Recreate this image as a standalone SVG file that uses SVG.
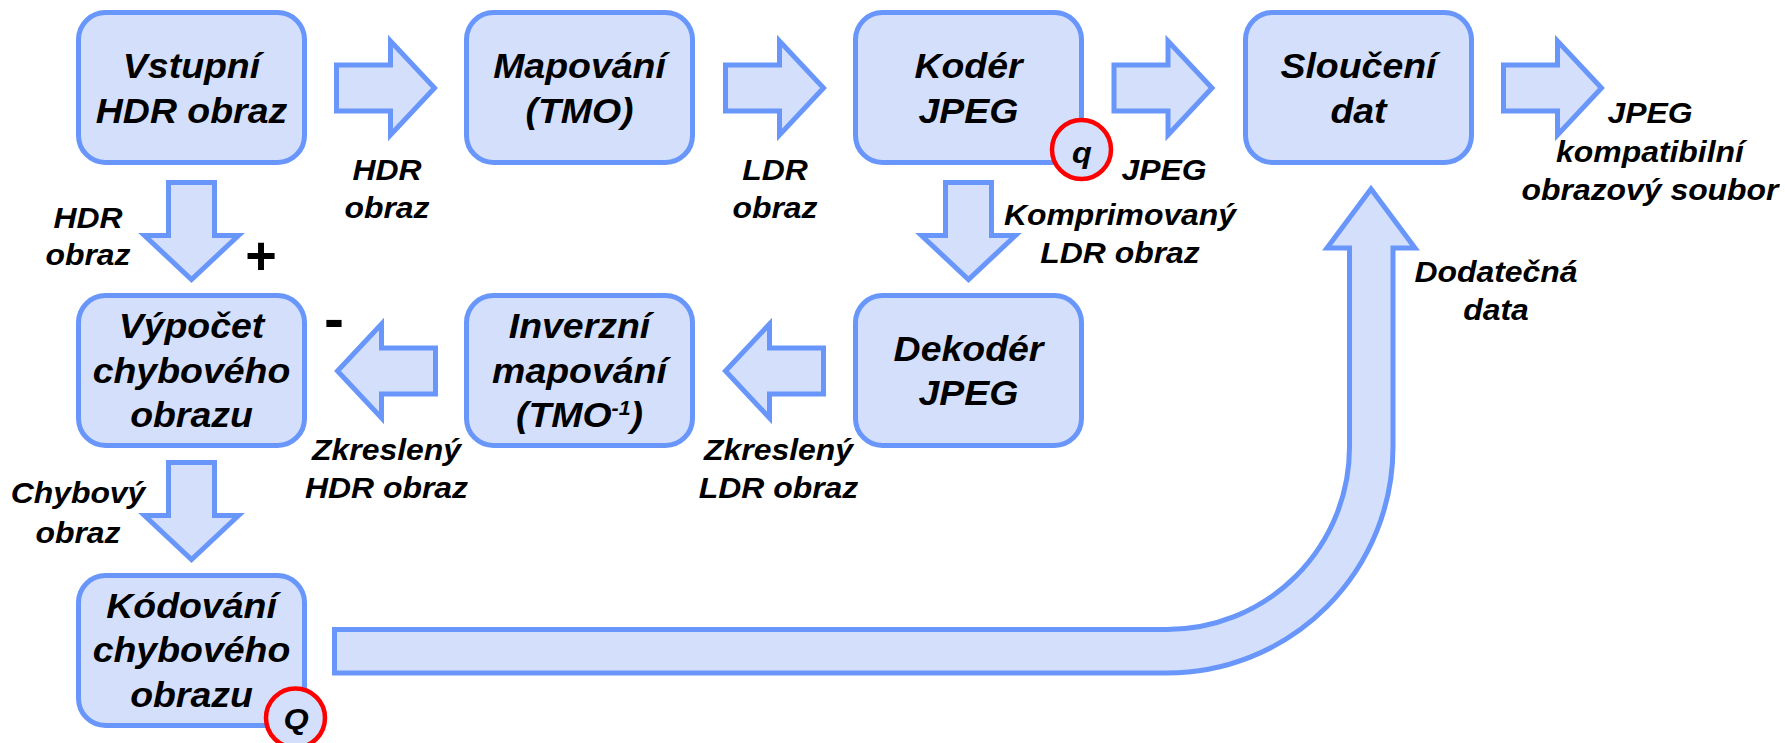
<svg xmlns="http://www.w3.org/2000/svg" width="1785" height="743" viewBox="0 0 1785 743">
  <style>
    .box { fill: #D4DFFC; stroke: #6896FA; stroke-width: 5; }
    .arrow { fill: #D4DFFC; stroke: #6896FA; stroke-width: 5; stroke-linejoin: miter; }
    .mark { fill: #D4DFFC; stroke: #FF0000; stroke-width: 4.5; }
    .t { font-family: "Liberation Sans", Arial, sans-serif; font-weight: bold; font-style: italic; fill: #000; text-anchor: middle; }
    .tb { font-size: 35px; }
    .tl { font-size: 29px; }
    .tq { font-size: 30px; }
    .sign { font-family: "Liberation Sans", Arial, sans-serif; font-weight: bold; fill: #000; text-anchor: middle; }
  </style>
  <rect width="1785" height="743" fill="#FFFFFF"/>

  <!-- connectors: block arrows between the stages -->
  <g id="connectors">
    <polygon class="arrow" points="336.5,65 390.5,65 390.5,41 434.5,88 390.5,135 390.5,111 336.5,111"/>
    <polygon class="arrow" points="725.5,65 779.5,65 779.5,41 823.5,88 779.5,135 779.5,111 725.5,111"/>
    <polygon class="arrow" points="1114,65 1168,65 1168,41 1212,88 1168,135 1168,111 1114,111"/>
    <polygon class="arrow" points="1503.5,65 1557.5,65 1557.5,41 1601.5,88 1557.5,135 1557.5,111 1503.5,111"/>
    <polygon class="arrow" points="168.5,182.5 214.5,182.5 214.5,235.5 238.5,235.5 191.5,279.5 144.5,235.5 168.5,235.5"/>
    <polygon class="arrow" points="945.5,182.5 991.5,182.5 991.5,235.5 1015.5,235.5 968.5,279.5 921.5,235.5 945.5,235.5"/>
    <polygon class="arrow" points="168.5,462.5 214.5,462.5 214.5,515.5 238.5,515.5 191.5,559.5 144.5,515.5 168.5,515.5"/>
    <polygon class="arrow" points="435.5,348 381.5,348 381.5,324 337.5,371 381.5,418 381.5,394 435.5,394"/>
    <polygon class="arrow" points="823.5,348 769.5,348 769.5,324 725.5,371 769.5,418 769.5,394 823.5,394"/>
    <!-- long bent arrow carrying the residual data up to the merge stage -->
    <path class="arrow" d="M334.5,629.5 H1167 A182.5,182.5 0 0 0 1349.5,447 V248 H1327 L1371,189 L1415,248 H1393 V447 A226,226 0 0 1 1167,673 H334.5 Z"/>

    <!-- connector labels -->
    <text class="t tl" transform="translate(387 0) scale(1.1 1)"><tspan x="0" y="180">HDR</tspan><tspan x="0" y="218">obraz</tspan></text>
    <text class="t tl" transform="translate(775 0) scale(1.1 1)"><tspan x="0" y="180">LDR</tspan><tspan x="0" y="218">obraz</tspan></text>
    <text class="t tl" transform="translate(1164 0) scale(1.1 1)"><tspan x="0" y="180">JPEG</tspan></text>
    <text class="t tl" transform="translate(1120 0) scale(1.1 1)"><tspan x="0" y="225">Komprimovaný</tspan><tspan x="0" y="263">LDR obraz</tspan></text>
    <text class="t tl" transform="translate(1650 0) scale(1.1 1)"><tspan x="0" y="123">JPEG</tspan><tspan x="0" y="162">kompatibilní</tspan><tspan x="0" y="200">obrazový soubor</tspan></text>
    <text class="t tl" transform="translate(88 0) scale(1.1 1)"><tspan x="0" y="228">HDR</tspan><tspan x="0" y="265">obraz</tspan></text>
    <text class="t tl" transform="translate(1496 0) scale(1.1 1)"><tspan x="0" y="282">Dodatečná</tspan><tspan x="0" y="320">data</tspan></text>
    <text class="t tl" transform="translate(386.5 0) scale(1.1 1)"><tspan x="0" y="460">Zkreslený</tspan><tspan x="0" y="498">HDR obraz</tspan></text>
    <text class="t tl" transform="translate(778.5 0) scale(1.1 1)"><tspan x="0" y="460">Zkreslený</tspan><tspan x="0" y="498">LDR obraz</tspan></text>
    <text class="t tl" transform="translate(78 0) scale(1.1 1)"><tspan x="0" y="503">Chybový</tspan><tspan x="0" y="543">obraz</tspan></text>
    <text class="sign" x="261" y="274" font-size="54">+</text>
    <text class="sign" x="334" y="338.5" font-size="60">-</text>
  </g>

  <g id="vstup">
    <rect class="box" x="78.5" y="12.5" width="226" height="150" rx="27"/>
    <text class="t tb" transform="translate(191.5 0) scale(1.07 1)"><tspan x="0" y="78">Vstupní</tspan><tspan x="0" y="123">HDR obraz</tspan></text>
  </g>
  <g id="mapovani">
    <rect class="box" x="466.5" y="12.5" width="226" height="150" rx="27"/>
    <text class="t tb" transform="translate(579.5 0) scale(1.07 1)"><tspan x="0" y="78">Mapování</tspan><tspan x="0" y="123">(TMO)</tspan></text>
  </g>
  <g id="koder">
    <rect class="box" x="855.5" y="12.5" width="226" height="150" rx="27"/>
    <text class="t tb" transform="translate(968.5 0) scale(1.07 1)"><tspan x="0" y="78">Kodér</tspan><tspan x="0" y="123">JPEG</tspan></text>
    <circle class="mark" cx="1081.5" cy="149.5" r="29.5"/>
    <text class="t tq" transform="translate(1082 0) scale(1.08 1)"><tspan x="0" y="163">q</tspan></text>
  </g>
  <g id="slouceni">
    <rect class="box" x="1245.5" y="12.5" width="226" height="150" rx="27"/>
    <text class="t tb" transform="translate(1358.5 0) scale(1.07 1)"><tspan x="0" y="78">Sloučení</tspan><tspan x="0" y="123">dat</tspan></text>
  </g>
  <g id="vypocet">
    <rect class="box" x="78.5" y="295.5" width="226" height="150" rx="27"/>
    <text class="t tb" transform="translate(191.5 0) scale(1.07 1)"><tspan x="0" y="338">Výpočet</tspan><tspan x="0" y="383">chybového</tspan><tspan x="0" y="427">obrazu</tspan></text>
  </g>
  <g id="inverzni">
    <rect class="box" x="466.5" y="295.5" width="226" height="150" rx="27"/>
    <text class="t tb" transform="translate(579.5 0) scale(1.07 1)"><tspan x="0" y="338">Inverzní</tspan><tspan x="0" y="383">mapování</tspan><tspan x="0" y="427">(TMO<tspan font-size="20" dy="-12">-1</tspan><tspan dy="12">)</tspan></tspan></text>
  </g>
  <g id="dekoder">
    <rect class="box" x="855.5" y="295.5" width="226" height="150" rx="27"/>
    <text class="t tb" transform="translate(968.5 0) scale(1.07 1)"><tspan x="0" y="361">Dekodér</tspan><tspan x="0" y="405">JPEG</tspan></text>
  </g>
  <g id="kodovani">
    <rect class="box" x="78.5" y="575.5" width="226" height="150" rx="27"/>
    <text class="t tb" transform="translate(191.5 0) scale(1.07 1)"><tspan x="0" y="618">Kódování</tspan><tspan x="0" y="662">chybového</tspan><tspan x="0" y="707">obrazu</tspan></text>
    <circle class="mark" cx="295.5" cy="718" r="29.5"/>
    <text class="t tq" transform="translate(296 0) scale(1.08 1)"><tspan x="0" y="729">Q</tspan></text>
  </g>
</svg>
